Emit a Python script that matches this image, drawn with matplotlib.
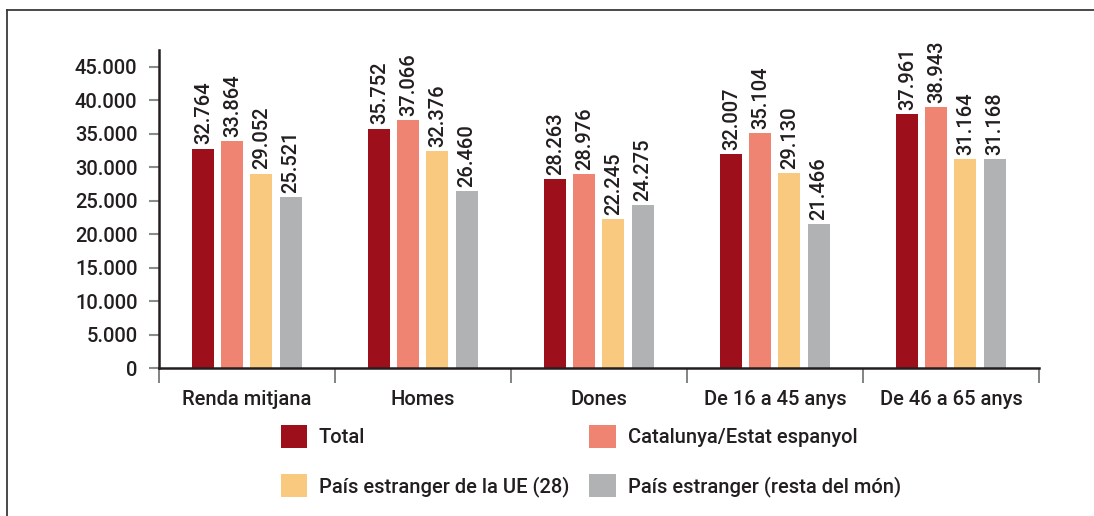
import numpy as np
import matplotlib
matplotlib.use("Agg")
import matplotlib.pyplot as plt
from matplotlib.patches import Patch
from matplotlib.lines import Line2D

plt.rcParams['font.family'] = ['Roboto', 'DejaVu Sans']
plt.rcParams['font.weight'] = 'medium'

# dades
categories = ['Renda mitjana', 'Homes', 'Dones', 'De 16 a 45 anys', 'De 46 a 65 anys']
series_names = ['Total', 'Catalunya/Estat espanyol',
                'País estranger de la UE (28)', 'País estranger (resta del món)']
total = [32764, 35752, 28263, 32007, 37961]
catalunya = [33864, 37066, 28976, 35104, 38943]
ue = [29052, 32376, 22245, 29130, 31164]
resta = [25521, 26460, 24275, 21466, 31168]
yticks = [0, 5000, 10000, 15000, 20000, 25000, 30000, 35000, 40000, 45000]

colors = ['#9C0F1B', '#EE8471', '#F9C97F', '#B1B2B4']
txt = '#231F20'
fs = 14.5


def fmt(v):
    # separador de milers amb punt
    return f"{v:,}".replace(',', '.')


fig = plt.figure(figsize=(10.94, 5.16), dpi=100)
ax = fig.add_axes([0.1453, 0.2868, 0.8044, 0.6163])

x = np.arange(len(categories)) + 0.5
w = 0.125
step = 0.165
for k, vals in enumerate([total, catalunya, ue, resta]):
    pos = x + (k - 1.5) * step
    ax.bar(pos, vals, width=w, color=colors[k], label=series_names[k])
    for p, v in zip(pos, vals):
        ax.annotate(fmt(v), (p, v), xytext=(0, 3), textcoords='offset points',
                    rotation=90, ha='center', va='bottom', fontsize=fs, color=txt)

ax.set_xlim(0, len(categories))
ax.set_ylim(0, 47500)
ax.set_yticks(yticks)
ax.set_yticklabels([fmt(t) for t in yticks], fontsize=fs, color=txt)

# ticks de l'eix x entre categories, etiquetes al centre
ax.set_xticks(np.arange(len(categories) + 1))
ax.set_xticklabels([])
ax.set_xticks(x, minor=True)
ax.set_xticklabels(categories, minor=True, fontsize=fs, color=txt)
ax.tick_params(axis='x', which='major', length=11, width=1.2, color='#6D6E70')
ax.tick_params(axis='x', which='minor', length=0, pad=16)
ax.tick_params(axis='y', length=7.5, width=1.5, color='#8A8B8D', pad=8)

for s in ['top', 'right']:
    ax.spines[s].set_visible(False)
for s in ['left', 'bottom']:
    ax.spines[s].set_linewidth(1.8)
    ax.spines[s].set_color('#231F20')

# llegenda per files: Total, Catalunya / UE, resta del món
order = [0, 2, 1, 3]
handles = [Patch(facecolor=colors[i], edgecolor='none') for i in order]
labels = [series_names[i] for i in order]
fig.legend(handles, labels, loc='upper left', bbox_to_anchor=(0.2565, 0.177),
           ncol=2, frameon=False, fontsize=fs, handlelength=1.3, handleheight=1.4,
           handletextpad=0.6, columnspacing=1.0, labelspacing=1.3, borderpad=0,
           borderaxespad=0, labelcolor=txt)

# marc de la figura (esquerra i dalt)
fig.add_artist(Line2D([0.0068, 0.0068], [0, 0.981], transform=fig.transFigure,
                      color='#3A3A3A', lw=1.3))
fig.add_artist(Line2D([0.0068, 1], [0.981, 0.981], transform=fig.transFigure,
                      color='#3A3A3A', lw=1.3))

fig.savefig('out.png', dpi=100)
